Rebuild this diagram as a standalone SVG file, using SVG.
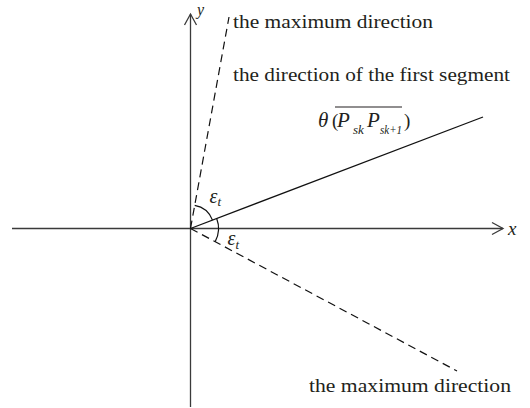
<svg xmlns="http://www.w3.org/2000/svg" width="530" height="408" viewBox="0 0 530 408">
<defs>
<style>
.axis{stroke:#3a3a3a;stroke-width:1.3;fill:none}
.seg{stroke:#111;stroke-width:1.3;fill:none}
.dash{stroke:#111;stroke-width:1.2;fill:none;stroke-dasharray:8 5}
.arc{stroke:#111;stroke-width:1.2;fill:none}
.lbl{font-size:19px;fill:#231f20}
.it{font-style:italic;fill:#231f20}
</style>
</defs>
<rect width="530" height="408" fill="#fff"/>
<g id="connectors">
<line class="axis" x1="12" y1="228.5" x2="503" y2="228.5"/>
<polyline class="axis" points="492,222.5 503,228.5 492,234.5"/>
<line class="axis" x1="190.5" y1="407" x2="190.5" y2="14"/>
<polyline class="axis" points="184.5,25 190.5,14 196.5,25"/>
<line class="seg" x1="190.5" y1="228.5" x2="483" y2="117"/>
<line class="dash" x1="190.5" y1="228.5" x2="229" y2="17"/>
<line class="dash" x1="190.5" y1="228.5" x2="457" y2="371"/>
<path class="arc" d="M194.7,205.4 A23.5,23.5 0 0 1 212.5,220.1"/>
<path class="arc" d="M216.7,218.5 A28,28 0 0 1 215.2,241.6"/>
</g>
<g font-family="Liberation Serif, Times New Roman, serif">
<g id="axis-labels">
<text class="it" x="197" y="15" font-size="16">y</text>
<text class="it" x="508" y="235" font-size="19">x</text>
</g>
<g id="angle-labels">
<text class="it" x="209.5" y="203" font-size="20">ε<tspan font-size="13" dy="3">t</tspan></text>
<text class="it" x="227.5" y="245" font-size="20">ε<tspan font-size="13" dy="4">t</tspan></text>
</g>
<g id="label-max-top">
<text class="lbl" x="233" y="28" textLength="200" lengthAdjust="spacingAndGlyphs">the maximum direction</text>
</g>
<g id="label-first-segment">
<text class="lbl" x="233" y="81" textLength="277" lengthAdjust="spacingAndGlyphs">the direction of the first segment</text>
</g>
<g id="label-theta">
<text class="it" x="318" y="127" font-size="21">θ</text>
<text class="lbl" x="332" y="127" font-size="21">(</text>
<text class="it" x="337" y="127" font-size="21">P</text>
<text class="it" x="353" y="134" font-size="13">sk</text>
<text class="it" x="367" y="127" font-size="21">P</text>
<text class="it" x="380" y="134" font-size="12" textLength="22" lengthAdjust="spacingAndGlyphs">sk+1</text>
<text class="lbl" x="404" y="127" font-size="21">)</text>
<line x1="335" y1="107" x2="402" y2="107" stroke="#231f20" stroke-width="1.1"/>
</g>
<g id="label-max-bottom">
<text class="lbl" x="309" y="392" textLength="202" lengthAdjust="spacingAndGlyphs">the maximum direction</text>
</g>
</g>
</svg>
